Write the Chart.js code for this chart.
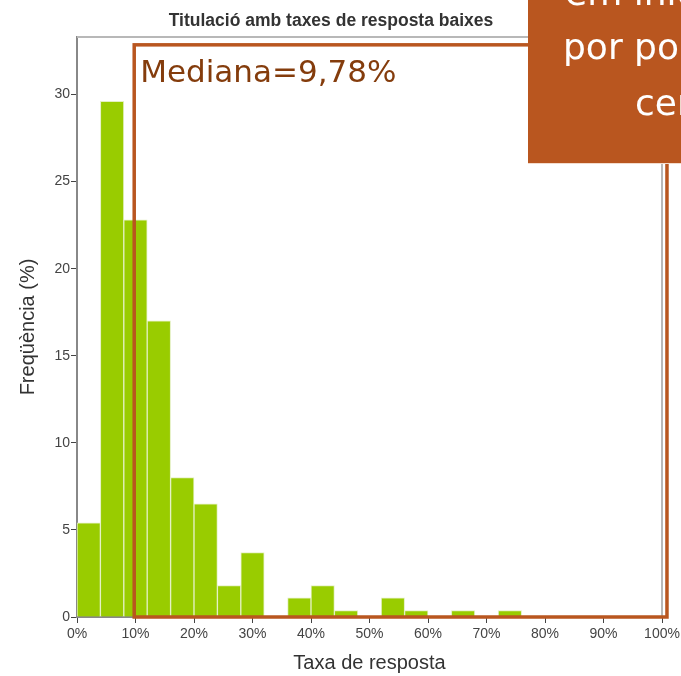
<!DOCTYPE html>
<html>
<head>
<meta charset="utf-8">
<script src="https://cdn.jsdelivr.net/npm/chart.js@4.4.1/dist/chart.umd.min.js"></script>
<style>
  html, body { margin: 0; padding: 0; background: #fff; overflow: hidden; }
  #wrap { position: relative; width: 681px; height: 676px; }
</style>
</head>
<body>
<div id="wrap"><canvas id="hist" width="681" height="676"></canvas></div>
<script>
/* ===== Histogram: taxa de resposta per titulació ===== */

// bin centres (4% wide bins, 0-100%)
const binCenters = [2, 6, 10, 14, 18, 22, 26, 30, 34, 38, 42, 46, 50, 54, 58, 62, 66, 70, 74, 78, 82, 86, 90, 94, 98];
// frequency in %
const freqValues = [5.4, 29.6, 22.8, 17.0, 8.0, 6.5, 1.8, 3.7, 0, 1.1, 1.8, 0.37, 0, 1.1, 0.37, 0, 0.37, 0, 0.37, 0, 0, 0, 0, 0, 0];

const xTicks = [0, 10, 20, 30, 40, 50, 60, 70, 80, 90, 100];
const yTicks = [0, 5, 10, 15, 20, 25, 30];

const chartTitle = 'Titulació amb taxes de resposta baixes';
const xTitle = 'Taxa de resposta';
const yTitle = 'Freqüència (%)';

// median annotation
const medianValue = 9.78;
const medianLabel = 'Mediana=9,78%';
const boxRight = 100.85;
const boxTop = 32.85;

// slide call-out (cut by the page edge)
const noteLines = ['em inici', 'por poco', 'cent'];

const ORANGE = '#b9561f';

const points = binCenters.map((c, i) => ({ x: c, y: freqValues[i] }));

/* ---------- plugins ---------- */
const frame = {
  id: 'frame',
  beforeDatasetsDraw(chart) {
    const { ctx, chartArea: a } = chart;
    ctx.save();
    ctx.strokeStyle = '#b8b8b8';
    ctx.lineWidth = 2;
    ctx.beginPath();
    ctx.moveTo(a.left, a.top);
    ctx.lineTo(a.right, a.top);
    ctx.lineTo(a.right, a.bottom);
    ctx.stroke();
    ctx.restore();
  }
};

const medianBox = {
  id: 'medianBox',
  afterDatasetsDraw(chart) {
    const { ctx, scales: { x, y } } = chart;
    const l = x.getPixelForValue(medianValue);
    const r = x.getPixelForValue(boxRight);
    const t = y.getPixelForValue(boxTop);
    const b = y.getPixelForValue(0);
    ctx.save();
    ctx.strokeStyle = ORANGE;
    ctx.lineWidth = 3.5;
    ctx.strokeRect(l, t, r - l, b - t);
    ctx.fillStyle = '#843c0c';
    ctx.font = '31px "DejaVu Sans"';
    ctx.textBaseline = 'alphabetic';
    ctx.fillText(medianLabel, l + 6, t + 37);
    ctx.restore();
  }
};

const callout = {
  id: 'callout',
  afterDraw(chart) {
    const { ctx } = chart;
    ctx.save();
    ctx.fillStyle = ORANGE;
    ctx.fillRect(528, 0, 160, 163);
    ctx.fillStyle = '#f3dccd';
    ctx.fillRect(528, 163, 160, 1);
    ctx.fillStyle = '#fff';
    ctx.font = '36px "DejaVu Sans"';
    ctx.textBaseline = 'alphabetic';
    ctx.fillText(noteLines[0], 565, 5);
    ctx.fillText(noteLines[1], 563, 59);
    ctx.fillText(noteLines[2], 635, 115);
    ctx.restore();
  }
};

/* ---------- chart ---------- */
const tickFont = { family: '"Liberation Sans", Arial, sans-serif', size: 14 };
const titleFont = { family: '"Liberation Sans", Arial, sans-serif', size: 20 };

new Chart(document.getElementById('hist').getContext('2d'), {
  type: 'bar',
  data: {
    datasets: [{
      data: points,
      backgroundColor: '#99cc00',
      borderColor: '#e4f0c2',
      borderWidth: ctx => (ctx.raw && ctx.raw.y > 0 ? 1 : 0),
      borderSkipped: 'bottom',
      barPercentage: 1,
      categoryPercentage: 1
    }]
  },
  options: {
    responsive: false,
    animation: false,
    devicePixelRatio: 1,
    layout: { padding: { left: 0, right: 19, top: 0, bottom: 0 } },
    plugins: {
      legend: { display: false },
      tooltip: { enabled: false },
      title: {
        display: true,
        text: chartTitle,
        color: '#333',
        font: { family: '"Liberation Sans Narrow", "Liberation Sans", Arial, sans-serif', size: 17.5, weight: 'bold' },
        padding: { top: 11, bottom: 5 }
      }
    },
    scales: {
      x: {
        type: 'linear',
        min: 0,
        max: 100,
        offset: false,
        afterBuildTicks: s => { s.ticks = xTicks.map(v => ({ value: v })); },
        afterFit: s => { s.height = 59; s.paddingRight = 0; },
        ticks: {
          color: '#444',
          font: tickFont,
          padding: 3,
          maxRotation: 0,
          callback: v => v + '%'
        },
        grid: { display: true, drawOnChartArea: false, offset: false, tickLength: 6, color: '#444' },
        border: { color: '#888', width: 2 },
        title: {
          display: true,
          text: xTitle,
          color: '#333',
          font: titleFont,
          padding: { top: 0, bottom: 1 }
        }
      },
      y: {
        min: 0,
        max: 33.3,
        afterBuildTicks: s => { s.ticks = yTicks.map(v => ({ value: v })); },
        afterFit: s => { s.width = 77; },
        ticks: { color: '#444', font: tickFont, padding: 1 },
        grid: { display: true, drawOnChartArea: false, tickLength: 6, color: '#444' },
        border: { color: '#888', width: 2 },
        title: {
          display: true,
          text: yTitle,
          color: '#333',
          font: titleFont,
          padding: { top: 16, bottom: 0 }
        }
      }
    }
  },
  plugins: [frame, medianBox, callout]
});
</script>
</body>
</html>
